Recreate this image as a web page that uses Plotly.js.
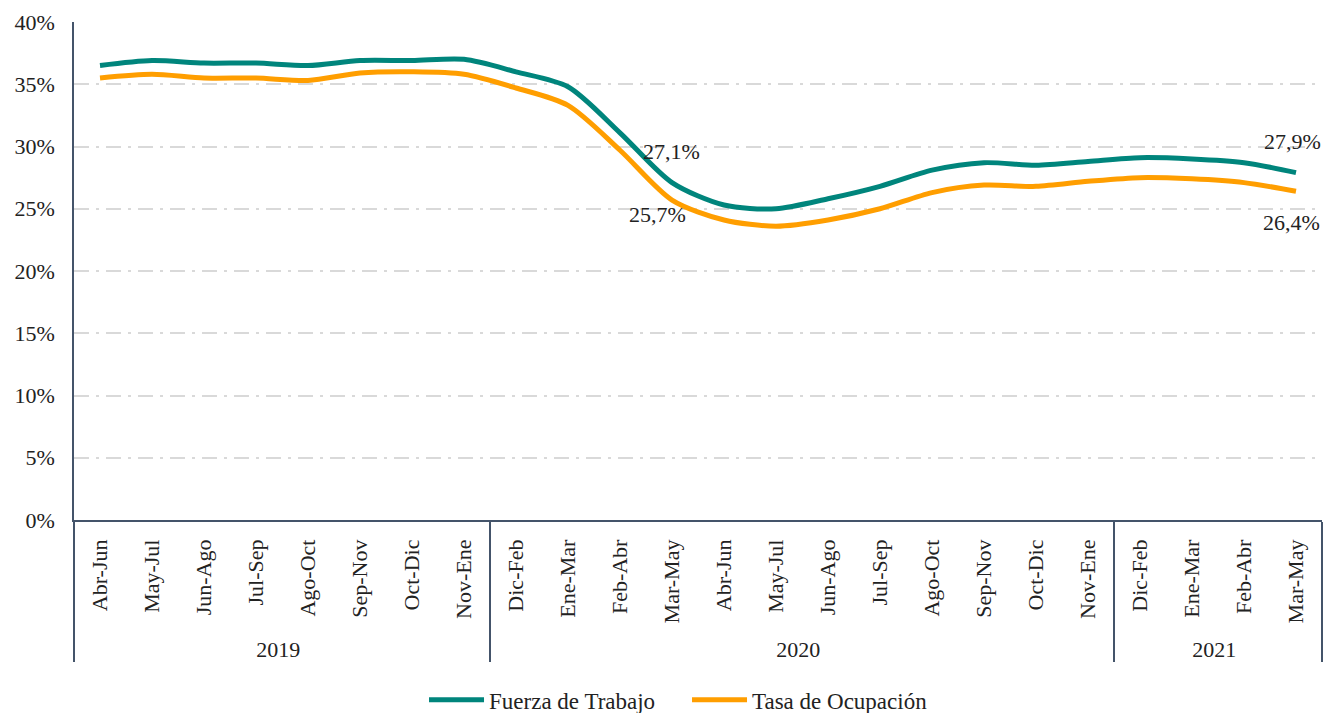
<!DOCTYPE html>
<html><head><meta charset="utf-8">
<script src="https://cdn.plot.ly/plotly-3.0.1.min.js"></script>
<style>body{margin:0;background:#fff}#c{width:1325px;height:713px}</style>
</head><body><div id="c"></div>
<script>
const years = ["2019","2019","2019","2019","2019","2019","2019","2019",
  "2020","2020","2020","2020","2020","2020","2020","2020","2020","2020","2020","2020",
  "2021","2021","2021","2021"];
const periods = ["Abr-Jun","May-Jul","Jun-Ago","Jul-Sep","Ago-Oct","Sep-Nov","Oct-Dic","Nov-Ene",
  "Dic-Feb","Ene-Mar","Feb-Abr","Mar-May","Abr-Jun","May-Jul","Jun-Ago","Jul-Sep","Ago-Oct","Sep-Nov","Oct-Dic","Nov-Ene",
  "Dic-Feb","Ene-Mar","Feb-Abr","Mar-May"];
const fuerza = [36.5,36.9,36.7,36.7,36.5,36.9,36.9,37.0,
  36.0,34.8,31.1,27.1,25.3,25.0,25.8,26.8,28.1,28.7,28.5,28.8,
  29.1,29.0,28.7,27.9];
const ocupacion = [35.5,35.8,35.5,35.5,35.3,35.9,36.0,35.8,
  34.7,33.3,29.7,25.7,24.1,23.6,24.1,25.0,26.3,26.9,26.8,27.2,
  27.5,27.4,27.1,26.4];
const seriesNames = ["Fuerza de Trabajo","Tasa de Ocupación"];

// Plotly orders multicategory inner labels globally by first appearance;
// an invisible zero-width suffix on the 2020 labels keeps chronological order.
const innerLabels = periods.map((p, i) => years[i] === "2020" ? p + "\u200B" : p);

const fmt = v => v.toFixed(1).replace('.', ',') + '%';
const x = [years, innerLabels];
const FAM = "Liberation Serif";
const font = {family: FAM, color: "#222", size: 22};
const axisCol = "#44546A";

const traces = [
  {x: x, y: fuerza, name: seriesNames[0], type: "scatter", mode: "lines",
   line: {color: "#00857C", width: 5, shape: "spline", smoothing: 0.8}},
  {x: x, y: ocupacion, name: seriesNames[1], type: "scatter", mode: "lines",
   line: {color: "#FF9E00", width: 5, shape: "spline", smoothing: 0.8}}
];

const iMid = 11, iLast = periods.length - 1;
const annFont = {family: FAM, size: 22, color: "#222"};
const annotations = [
  {x: [years[iMid], innerLabels[iMid]], y: fuerza[iMid], text: fmt(fuerza[iMid]), showarrow: false, xshift: -1, yshift: 31, font: annFont},
  {x: [years[iMid], innerLabels[iMid]], y: ocupacion[iMid], text: fmt(ocupacion[iMid]), showarrow: false, xshift: -15, yshift: -14, font: annFont},
  {x: [years[iLast], innerLabels[iLast]], y: fuerza[iLast], text: fmt(fuerza[iLast]), showarrow: false, xshift: -4, yshift: 31, font: annFont},
  {x: [years[iLast], innerLabels[iLast]], y: ocupacion[iLast], text: fmt(ocupacion[iLast]), showarrow: false, xshift: -5, yshift: -31, font: annFont}
].map(a => Object.assign(a, {xref: "x", yref: "y"}));

const layout = {
  width: 1325, height: 713,
  margin: {l: 74, r: 3, t: 22, b: 193, autoexpand: false},
  paper_bgcolor: "#fff", plot_bgcolor: "#fff",
  font: font,
  separators: ",.",
  showlegend: true,
  legend: {orientation: "h", x: 0.4912, xanchor: "center", y: -0.361, yanchor: "middle",
           font: {family: FAM, size: 23, color: "#222"}, itemwidth: 55, entrywidth: 193},
  xaxis: {type: "multicategory", range: [-0.5, periods.length - 0.5],
          showline: true, linecolor: axisCol, linewidth: 1.5,
          showgrid: false, tickangle: -90, ticks: "", ticklabelstandoff: 9,
          tickfont: {family: FAM, size: 22, color: "#222"},
          showdividers: true, dividercolor: axisCol, dividerwidth: 1.5, automargin: false},
  yaxis: {range: [0, 40], dtick: 5, ticksuffix: "%", showline: true, linecolor: axisCol, linewidth: 1.5,
          gridcolor: "#D9D9D9", griddash: "15px,7px,3px,7px", gridwidth: 1.5, zeroline: false,
          tickfont: {family: FAM, size: 22, color: "#222"}, ticks: "", ticklabelstandoff: 13, automargin: false},
  annotations: annotations
};
Plotly.newPlot("c", traces, layout, {displayModeBar: false});
</script></body></html>
